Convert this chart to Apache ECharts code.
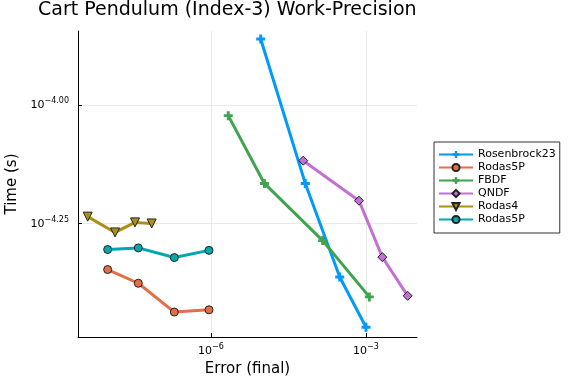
<!DOCTYPE html>
<html>
<head>
<meta charset="utf-8">
<script src="https://cdn.jsdelivr.net/npm/echarts@6/dist/echarts.min.js"></script>
<style>html,body{margin:0;padding:0;background:#fff}#c{width:576px;height:384px}</style>
</head>
<body>
<div id="c"></div>
<script>
// ---- data (error, time in seconds) ----
const rosenbrockErr = [9.16e-6, 6.68e-5, 3.10e-4, 1.00e-3];
const rosenbrockTime = [1.38e-4, 6.84e-5, 4.34e-5, 3.40e-5];
const rodas5pAErr = [1.00e-8, 3.92e-8, 1.95e-7, 9.14e-7];
const rodas5pATime = [4.50e-5, 4.21e-5, 3.66e-5, 3.70e-5];
const fbdfErr = [2.16e-6, 1.08e-5, 1.45e-4, 1.16e-3];
const fbdfTime = [9.51e-5, 6.84e-5, 5.18e-5, 3.94e-5];
const qndfErr = [6.11e-5, 7.31e-4, 2.07e-3, 6.41e-3];
const qndfTime = [7.64e-5, 6.29e-5, 4.78e-5, 3.96e-5];
const rodas4Err = [4.11e-9, 1.39e-8, 3.38e-8, 7.11e-8];
const rodas4Time = [5.82e-5, 5.39e-5, 5.66e-5, 5.63e-5];
const rodas5pBErr = [1.00e-8, 3.92e-8, 1.95e-7, 9.14e-7];
const rodas5pBTime = [4.96e-5, 5.00e-5, 4.77e-5, 4.94e-5];

const xTickExps = [-6, -3];
const yTickExps = [-4.25, -4.00];

const seriesNames = ['Rosenbrock23', 'Rodas5P', 'FBDF', 'QNDF', 'Rodas4', 'Rodas5P'];
const colors = ['#009AFA', '#E36F47', '#3EA44E', '#C271D2', '#AC8E18', '#00A9AD'];

const crossPath = 'path://M-1.3,-4 L1.3,-4 L1.3,-1.3 L4,-1.3 L4,1.3 L1.3,1.3 L1.3,4 L-1.3,4 L-1.3,1.3 L-4,1.3 L-4,-1.3 L-1.3,-1.3 Z';
const markers = [
  {symbol: crossPath, size: 9, border: 0, rotate: 0},
  {symbol: 'circle', size: 8, border: 1, rotate: 0},
  {symbol: crossPath, size: 9, border: 0, rotate: 0},
  {symbol: 'diamond', size: 9, border: 1, rotate: 0},
  {symbol: 'triangle', size: 9, border: 1, rotate: 180},
  {symbol: 'circle', size: 8, border: 1, rotate: 0}
];
const dataSets = [
  [rosenbrockErr, rosenbrockTime],
  [rodas5pAErr, rodas5pATime],
  [fbdfErr, fbdfTime],
  [qndfErr, qndfTime],
  [rodas4Err, rodas4Time],
  [rodas5pBErr, rodas5pBTime]
];

const FONT = 'DejaVu Sans';
const sup = (e) => '{b|10}{s|' + e + '}';
const rich = {
  b: {fontSize: 11, fontFamily: FONT, color: '#000'},
  s: {fontSize: 8, fontFamily: FONT, color: '#000', padding: [0, 0, 8, 0]}
};

const series = dataSets.map((d, i) => ({
  name: seriesNames[i] + '#' + i,
  type: 'line',
  data: d[0].map((x, k) => [Math.log10(x), Math.log10(d[1][k])]),
  symbol: markers[i].symbol,
  symbolSize: markers[i].size,
  symbolRotate: markers[i].rotate,
  showSymbol: true,
  lineStyle: {width: 3, color: colors[i]},
  itemStyle: {color: colors[i], borderColor: markers[i].border ? '#222' : colors[i], borderWidth: markers[i].border},
  emphasis: {disabled: true},
  animation: false
}));

const chart = echarts.init(document.getElementById('c'), null, {renderer: 'canvas'});
chart.setOption({
  animation: false,
  backgroundColor: '#fff',
  title: {
    text: 'Cart Pendulum (Index-3) Work-Precision',
    left: 38, top: 1, padding: 0,
    textStyle: {fontFamily: FONT, fontSize: 19, fontWeight: 'normal', color: '#000'}
  },
  grid: {left: 78, right: 159, top: 31, bottom: 47, containLabel: false, outerBoundsMode: 'none'},
  legend: {
    orient: 'vertical',
    left: 434, top: 142,
    padding: [7, 4, 8, 4],
    itemWidth: 34, itemHeight: 9, itemGap: 2,
    borderColor: '#333', borderWidth: 1,
    data: series.map(s => s.name),
    formatter: (n) => n.split('#')[0],
    textStyle: {fontFamily: FONT, fontSize: 11, color: '#000', lineHeight: 11}
  },
  xAxis: {
    type: 'value',
    min: -8.574, max: -2.013,
    name: 'Error (final)', nameLocation: 'middle', nameGap: 21,
    nameTextStyle: {fontFamily: FONT, fontSize: 15, color: '#000'},
    axisLine: {lineStyle: {color: '#000', width: 1}},
    axisTick: {inside: true, length: 4, customValues: xTickExps, lineStyle: {color: '#000'}},
    axisLabel: {customValues: xTickExps, margin: 6, formatter: (v) => sup('\u2212' + Math.abs(v)), rich: rich},
    splitLine: {show: true, lineStyle: {color: '#e9e9e9', width: 1}}
  },
  yAxis: {
    type: 'value',
    min: -4.4892, max: -3.8431,
    name: 'Time (s)', nameLocation: 'middle', nameGap: 58,
    nameTextStyle: {fontFamily: FONT, fontSize: 15, color: '#000'},
    axisLine: {show: true, lineStyle: {color: '#000', width: 1}},
    axisTick: {show: true, inside: true, length: 4, customValues: yTickExps, lineStyle: {color: '#000'}},
    axisLabel: {customValues: yTickExps, margin: 9, formatter: (v) => sup('\u2212' + Math.abs(v).toFixed(2)), rich: rich},
    splitLine: {show: true, lineStyle: {color: '#e9e9e9', width: 1}}
  },
  series: series
});
</script>
</body>
</html>
